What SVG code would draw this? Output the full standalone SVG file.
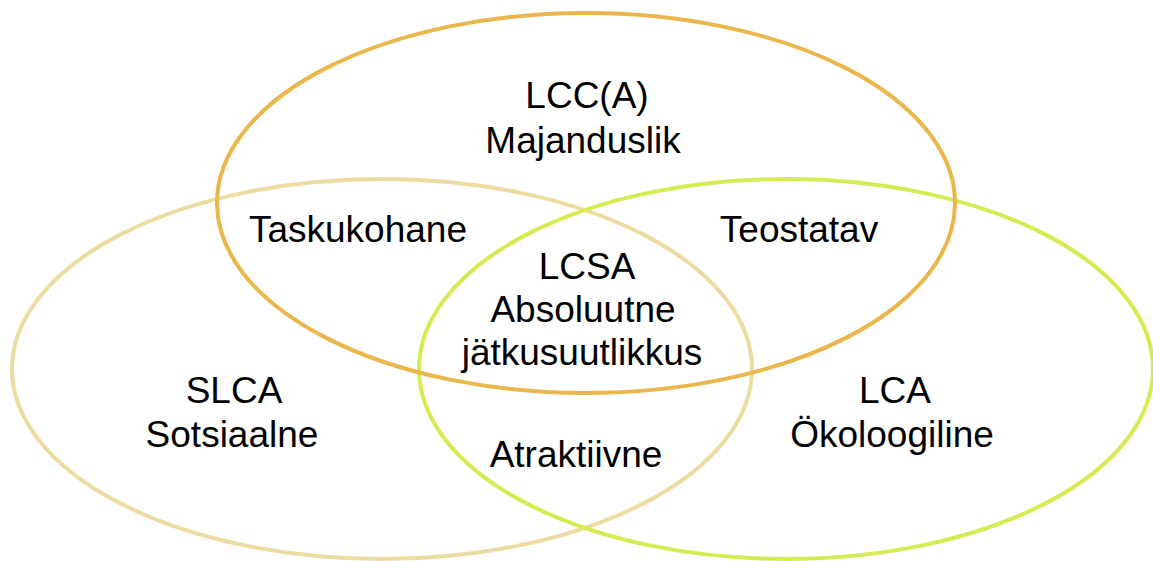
<svg xmlns="http://www.w3.org/2000/svg" width="1153" height="561" viewBox="0 0 1153 561">
<style>
.e{fill:none;stroke-width:4}
.t{font-family:"Liberation Sans",Arial,sans-serif;font-size:37px;fill:#000;text-anchor:middle}
</style>
<rect width="1153" height="561" fill="#fff"/>
<g id="slca"><ellipse class="e" cx="382" cy="369" rx="370" ry="190" stroke="#EDDCA2"/></g>
<g id="lca"><ellipse class="e" cx="786" cy="369" rx="367" ry="190" stroke="#D5EB51"/></g>
<g id="lcc"><ellipse class="e" cx="586" cy="203" rx="369" ry="190" stroke="#EBB64B"/></g>
<g id="labels">
<text class="t" x="587" y="108">LCC(A)</text>
<text class="t" x="583" y="153">Majanduslik</text>
<text class="t" x="358" y="242">Taskukohane</text>
<text class="t" x="799" y="242">Teostatav</text>
<text class="t" x="587" y="279">LCSA</text>
<text class="t" x="583" y="322">Absoluutne</text>
<text class="t" x="582" y="365">jätkusuutlikkus</text>
<text class="t" x="234" y="403">SLCA</text>
<text class="t" x="232" y="447">Sotsiaalne</text>
<text class="t" x="895" y="403">LCA</text>
<text class="t" x="892" y="447">Ökoloogiline</text>
<text class="t" x="576" y="467">Atraktiivne</text>
</g>
</svg>
